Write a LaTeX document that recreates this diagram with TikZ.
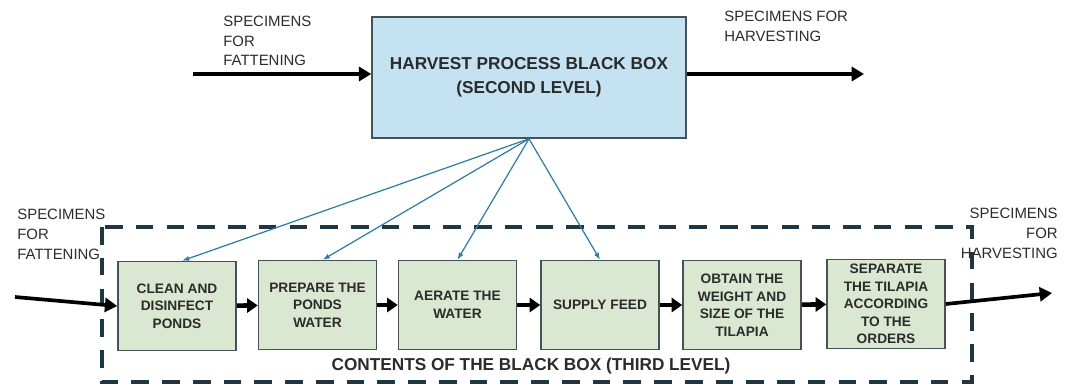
\documentclass[tikz,border=0pt]{standalone}
\usepackage{fontspec}
\setmainfont{Liberation Sans}
\usetikzlibrary{arrows.meta}
\definecolor{boxblue}{HTML}{C4E2F2}
\definecolor{boxgreen}{HTML}{DAE8D2}
\definecolor{fanblue}{HTML}{2E7DA3}
\definecolor{framegray}{HTML}{1F3645}
\definecolor{edgegray}{HTML}{45525A}
\definecolor{textgray}{HTML}{2B2B2B}

\tikzset{
  blackbox/.style={draw=edgegray, line width=0.9pt, fill=boxblue, minimum width=6.28cm,
    minimum height=2.42cm, align=center, text=textgray,
    font=\fontsize{9.8}{13.6}\selectfont\bfseries},
  stepbox/.style={draw=edgegray, line width=0.9pt, fill=boxgreen, minimum width=2.36cm,
    minimum height=1.78cm, align=center, inner sep=1pt, text=textgray,
    font=\fontsize{7.8}{10}\selectfont\bfseries},
  flowtext/.style={text=textgray, inner sep=0pt, font=\fontsize{8.5}{11.3}\selectfont},
  flow/.style={-{Triangle[length=7pt,width=8pt]}, line width=2.1pt},
  chain/.style={-{Triangle[length=6pt,width=8pt]}, line width=2.6pt},
  fan/.style={-{Latex[length=4pt,width=3pt]}, fanblue, line width=0.7pt},
  frame/.style={framegray, line width=2.2pt, dash pattern=on 10pt off 7.5pt}
}

\begin{document}
\begin{tikzpicture}[x=0.02cm,y=-0.02cm]
\useasboundingbox (0,0) rectangle (1077,386);

%% second level
\node [blackbox] (hbox) at (529,77.5) {HARVEST PROCESS BLACK BOX\\(SECOND LEVEL)};
\node [flowtext,anchor=west,align=left] (tinl) at (223,41) {SPECIMENS\\FOR\\FATTENING};
\node [flowtext,anchor=west,align=left] (toutl) at (724,26) {SPECIMENS FOR\\HARVESTING};
\coordinate (tin) at (193,74);
\coordinate (tout) at (864,74);
\draw [flow] (tin) -- (tin -| hbox.west);
\draw [flow] (tout -| hbox.east) -- (tout);

%% third level
\draw [frame] (102,227) rectangle (972,382);
\node [font=\fontsize{9.8}{12}\selectfont\bfseries, text=textgray] (clabel) at (531,366)
  {CONTENTS OF THE BLACK BOX (THIRD LEVEL)};

% steps
\node [stepbox] (clean)    at (177,306)   {CLEAN AND\\DISINFECT\\PONDS};
\node [stepbox] (prepare)  at (317.5,305) {PREPARE THE\\PONDS\\WATER};
\node [stepbox] (aerate)   at (457.5,305) {AERATE THE\\WATER};
\node [stepbox] (feed)     at (600,305)   {SUPPLY FEED};
\node [stepbox] (weigh)    at (742,305)   {OBTAIN THE\\WEIGHT AND\\SIZE OF THE\\TILAPIA};
\node [stepbox] (separate) at (886,304)   {SEPARATE\\THE TILAPIA\\ACCORDING\\TO THE\\ORDERS};

% side labels
\node [flowtext,anchor=west,align=left] (linl) at (17,234) {SPECIMENS\\FOR\\FATTENING};
\node [flowtext,anchor=east,align=right] (loutl) at (1058,233) {SPECIMENS\\FOR\\HARVESTING};

% arrows
\coordinate (lin) at (15,297);
\coordinate (lout) at (1052,293);
\draw [flow] (lin) -- (clean.west);
\draw [chain] (clean) -- (prepare);
\draw [chain] (prepare) -- (aerate);
\draw [chain] (aerate) -- (feed);
\draw [chain] (feed) -- (weigh);
\draw [chain] (weigh) -- (separate);
\draw [flow] (separate.east) -- (lout);

% fan from the black box
\draw [fan] (hbox.south) -- ([xshift=3]clean.north);
\draw [fan] (hbox.south) -- ([xshift=3]prepare.north);
\draw [fan] (hbox.south) -- (aerate.north);
\draw [fan] (hbox.south) -- (feed.north);

\end{tikzpicture}
\end{document}
